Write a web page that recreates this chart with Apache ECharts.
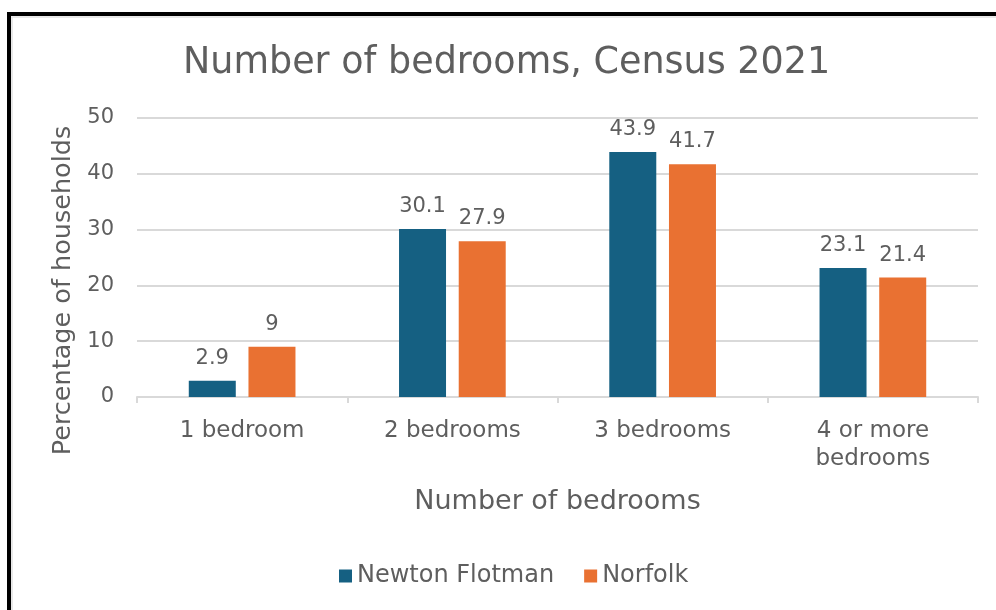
<!DOCTYPE html>
<html>
<head>
<meta charset="utf-8">
<script src="https://cdn.jsdelivr.net/npm/echarts@6/dist/echarts.min.js"></script>
<style>
  html, body { margin: 0; padding: 0; background: #fff; }
  #main { width: 996px; height: 610px; }
</style>
</head>
<body>
<div id="main"></div>
<script>
// 数据
var categories = ['1 bedroom', '2 bedrooms', '3 bedrooms', '4 or more\nbedrooms'];
var newtonFlotman = [2.9, 30.1, 43.9, 23.1];
var norfolk = [9, 27.9, 41.7, 21.4];
var seriesNames = ['Newton Flotman', 'Norfolk'];

var fontName = 'DejaVu Sans';
var textColor = '#5e5e5e';
var gridColor = '#d9d9d9';

function barSeries(name, data, color) {
	return {
		name: name,
		type: 'bar',
		data: data,
		barWidth: 47,
		barGap: '27%',
		itemStyle: { color: color },
		label: {
			show: true,
			position: 'top',
			distance: 12,
			fontFamily: fontName,
			fontSize: 21,
			color: textColor
		}
	};
}

var option = {
	backgroundColor: '#fff',
	textStyle: { fontFamily: fontName, color: textColor },
	title: {
		text: 'Number of bedrooms, Census 2021',
		left: 178,
		top: 40,
		textStyle: { fontFamily: fontName, fontSize: 36.5, fontWeight: 'normal', color: textColor }
	},
	legend: {
		data: seriesNames,
		left: 334,
		top: 559,
		icon: 'rect',
		itemWidth: 13,
		itemHeight: 13,
		itemGap: 30,
		textStyle: { fontFamily: fontName, fontSize: 24, color: textColor }
	},
	grid: { left: 137, right: 18, top: 118, bottom: 213 },
	xAxis: {
		type: 'category',
		data: categories,
		name: 'Number of bedrooms',
		nameLocation: 'middle',
		nameGap: 91,
		nameTextStyle: { fontFamily: fontName, fontSize: 27, color: textColor, verticalAlign: 'top' },
		axisLine: { lineStyle: { color: gridColor, width: 2 } },
		axisTick: { show: true, alignWithLabel: false, length: 6, lineStyle: { color: gridColor, width: 2 } },
		axisLabel: { interval: 0, margin: 20, fontFamily: fontName, fontSize: 23, lineHeight: 28, color: textColor }
	},
	yAxis: {
		type: 'value',
		min: 0,
		max: 50,
		interval: 10,
		name: 'Percentage of households',
		nameLocation: 'middle',
		nameGap: 60,
		nameTextStyle: { fontFamily: fontName, fontSize: 25.5, color: textColor, padding: [0, 66, 0, 0] },
		axisLine: { show: false },
		axisTick: { show: false },
		splitLine: { lineStyle: { color: gridColor, width: 2 } },
		axisLabel: { margin: 23, fontFamily: fontName, fontSize: 21, color: textColor }
	},
	series: [
		barSeries(seriesNames[0], newtonFlotman, '#156082'),
		barSeries(seriesNames[1], norfolk, '#E97132')
	],
	graphic: [
		// 外框
		{ type: 'line', shape: { x1: 7, y1: 14, x2: 996, y2: 14 }, style: { stroke: '#000', lineWidth: 4 } },
		{ type: 'line', shape: { x1: 9, y1: 12, x2: 9, y2: 610 }, style: { stroke: '#000', lineWidth: 4 } },
		{ type: 'line', shape: { x1: 11, y1: 17, x2: 996, y2: 17 }, style: { stroke: '#e0e0e0', lineWidth: 1.5 } },
		{ type: 'line', shape: { x1: 12, y1: 17, x2: 12, y2: 610 }, style: { stroke: '#e0e0e0', lineWidth: 1.5 } }
	]
};

var myChart = echarts.init(document.getElementById('main'));
myChart.setOption(option);
</script>
</body>
</html>
